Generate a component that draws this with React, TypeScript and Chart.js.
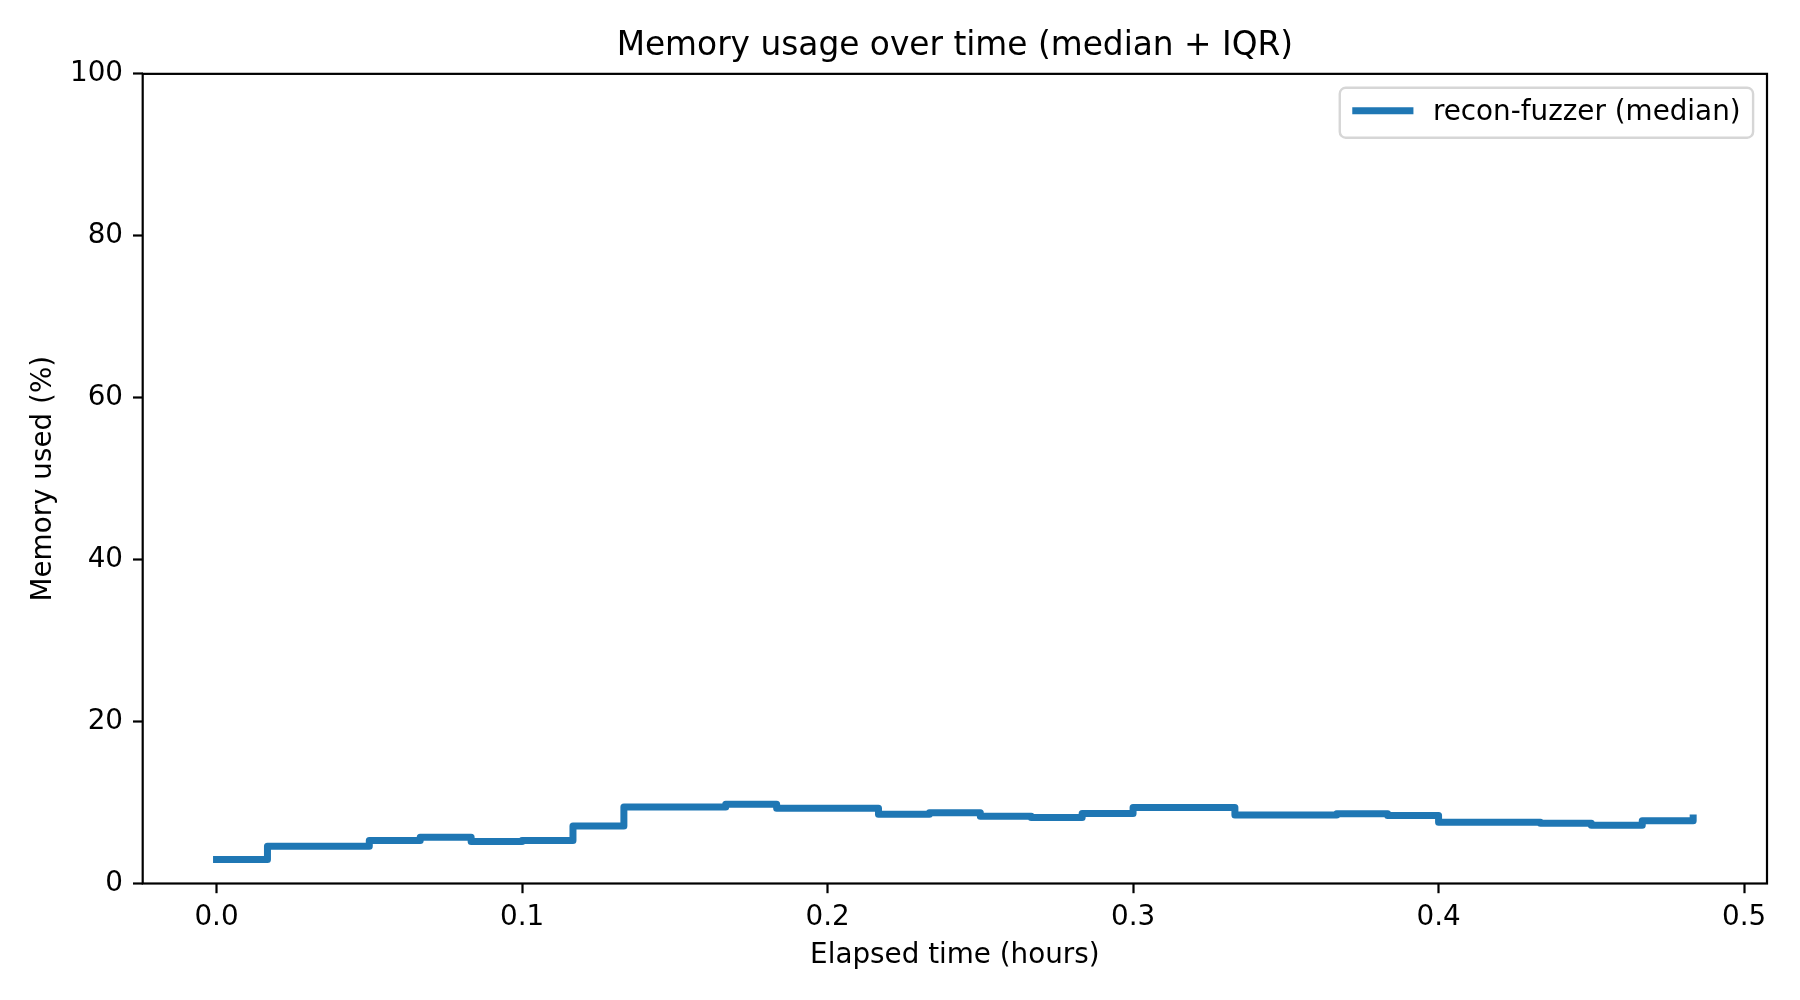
import React, { useEffect, useRef } from "react";
import { Chart } from "chart.js/auto";

// sample times (minutes since start) and median memory usage (%)
const minutes = [0, 1, 2, 3, 4, 5, 6, 7, 8, 9, 10, 11, 12, 13, 14, 15, 16, 17, 18, 19, 20, 21, 22, 23, 24, 25, 26, 27, 28, 29];
const memoryMedian = [
  2.95, 4.6, 4.6, 5.3, 5.7, 5.2, 5.3, 7.1, 9.45, 9.45,
  9.8, 9.3, 9.3, 8.55, 8.75, 8.3, 8.15, 8.65, 9.4, 9.4,
  8.45, 8.45, 8.6, 8.4, 7.55, 7.55, 7.45, 7.2, 7.75, 8.1,
];
const yTicks = [0, 20, 40, 60, 80, 100];
const seriesLabel = "recon-fuzzer (median)";

const FONT = "'DejaVu Sans', sans-serif";
const SMALL = 27.8;
const LARGE = 32.8;
const BLUE = "#1f77b4";
const LINE_W = 7;

// matplotlib style frame + legend drawn over the plot area
const framePlugin = {
  id: "frameAndLegend",
  afterDraw(chart: Chart) {
    const { ctx, chartArea } = chart;
    ctx.save();
    ctx.strokeStyle = "#000";
    ctx.lineWidth = 2.2;
    ctx.strokeRect(chartArea.left, chartArea.top, chartArea.right - chartArea.left, chartArea.bottom - chartArea.top);

    const ds = chart.data.datasets[0];
    const label = String(ds.label);
    ctx.font = `${SMALL}px ${FONT}`;
    const tw = ctx.measureText(label).width;
    const pad = 0.45 * SMALL;
    const handle = 2.2 * SMALL;
    const gap = 0.7 * SMALL;
    const w = pad + handle + gap + tw + pad;
    const h = 50;
    const right = chartArea.right - 0.5 * SMALL;
    const top = chartArea.top + 0.5 * SMALL;
    const left = right - w;

    ctx.beginPath();
    ctx.roundRect(left, top, w, h, 6);
    ctx.fillStyle = "rgba(255,255,255,0.8)";
    ctx.fill();
    ctx.strokeStyle = "#d6d6d6";
    ctx.lineWidth = 2.4;
    ctx.stroke();

    const cy = top + h / 2;
    ctx.beginPath();
    ctx.moveTo(left + pad, cy - 2);
    ctx.lineTo(left + pad + handle, cy - 2);
    ctx.strokeStyle = BLUE;
    ctx.lineWidth = LINE_W;
    ctx.stroke();

    ctx.fillStyle = "#000";
    ctx.textBaseline = "middle";
    ctx.textAlign = "left";
    ctx.fillText(label, left + pad + handle + gap, cy);
    ctx.restore();
  },
};

const App: React.FC = () => {
  const canvasRef = useRef<HTMLCanvasElement | null>(null);
  const chartRef = useRef<Chart | null>(null);

  useEffect(() => {
    document.body.style.margin = "0";
    if (!canvasRef.current) return;
    if (chartRef.current) chartRef.current.destroy();

    Chart.defaults.font.family = FONT;
    Chart.defaults.color = "#000";

    const points = minutes.map((m, i) => ({ x: m / 60, y: memoryMedian[i] }));

    chartRef.current = new Chart(canvasRef.current, {
      type: "line",
      data: {
        datasets: [
          {
            label: seriesLabel,
            data: points,
            borderColor: BLUE,
            backgroundColor: BLUE,
            borderWidth: LINE_W,
            stepped: true,
            pointRadius: 0,
            borderCapStyle: "square",
            borderJoinStyle: "round",
          },
        ],
      },
      options: {
        animation: false,
        responsive: false,
        devicePixelRatio: 1,
        layout: { padding: { left: 0, right: 33, top: 0, bottom: 0 } },
        plugins: {
          legend: { display: false },
          tooltip: { enabled: false },
          title: {
            display: true,
            text: "Memory usage over time (median + IQR)",
            fullSize: false,
            color: "#000",
            font: { size: LARGE, weight: "normal", family: FONT },
            padding: { top: 27, bottom: 7.5 },
          },
        },
        scales: {
          x: {
            type: "linear",
            min: -0.02417,
            max: 0.5075,
            afterFit: (s: any) => {
              s.height = 116.5;
            },
            border: { display: false },
            grid: {
              drawOnChartArea: false,
              drawTicks: true,
              tickLength: 9.7,
              tickWidth: 2.2,
              tickColor: "#000",
            },
            ticks: {
              stepSize: 0.1,
              includeBounds: false,
              autoSkip: false,
              maxRotation: 0,
              padding: 7.5,
              color: "#000",
              font: { size: SMALL },
              callback: (v: any) => Number(v).toFixed(1),
            },
            title: {
              display: true,
              text: "Elapsed time (hours)",
              color: "#000",
              font: { size: SMALL },
              padding: { top: 0, bottom: 27.5 },
            },
          },
          y: {
            min: yTicks[0],
            max: yTicks[yTicks.length - 1],
            afterFit: (s: any) => {
              s.width = 142.7;
            },
            afterBuildTicks: (s: any) => {
              s.ticks = yTicks.map((v) => ({ value: v }));
            },
            border: { display: false },
            grid: {
              drawOnChartArea: false,
              drawTicks: true,
              tickLength: 9.7,
              tickWidth: 2.2,
              tickColor: "#000",
            },
            ticks: {
              padding: 10,
              color: "#000",
              font: { size: SMALL },
            },
            title: {
              display: true,
              text: "Memory used (%)",
              color: "#000",
              font: { size: SMALL },
              padding: { top: 27, bottom: 0 },
            },
          },
        },
      },
      plugins: [framePlugin],
    });

    return () => {
      chartRef.current?.destroy();
      chartRef.current = null;
    };
  }, []);

  return (
    <div style={{ width: 1800, height: 1000, background: "#fff" }}>
      <canvas ref={canvasRef} width={1800} height={1000} />
    </div>
  );
};

export default App;
